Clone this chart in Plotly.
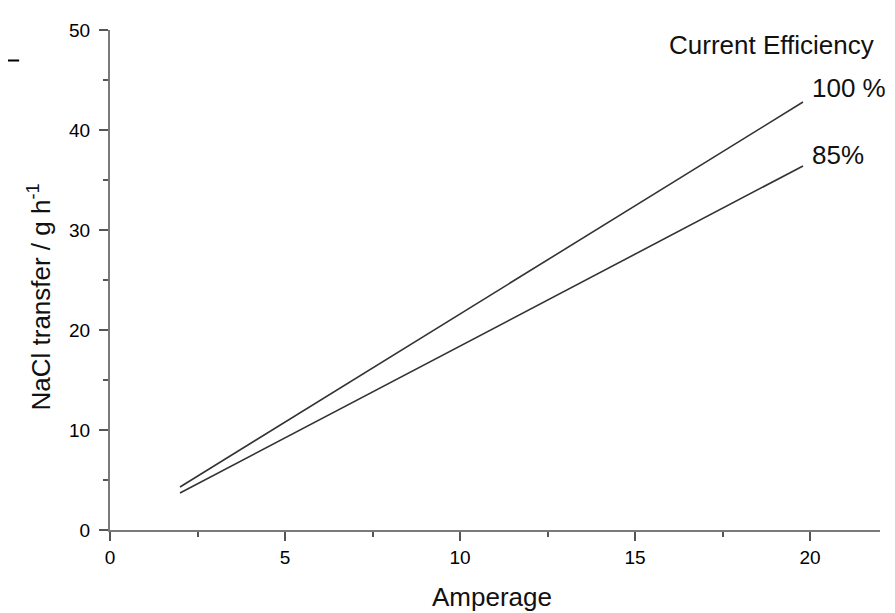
import plotly.graph_objects as go

amperage = [2.0, 19.8]
transfer_100 = [4.3, 42.8]
transfer_85 = [3.7, 36.4]

x_ticks = [0, 5, 10, 15, 20]
y_ticks = [0, 10, 20, 30, 40, 50]

line_color = "#333333"
font = "Liberation Sans, Arial, sans-serif"
text_color = "#111111"

fig = go.Figure()
fig.add_trace(go.Scatter(x=amperage, y=transfer_100, mode="lines",
                         line=dict(color=line_color, width=1.6), name="100 %"))
fig.add_trace(go.Scatter(x=amperage, y=transfer_85, mode="lines",
                         line=dict(color=line_color, width=1.6), name="85%"))

axis_common = dict(
    showgrid=False, zeroline=False, showline=True, linecolor="#7a7a7a", linewidth=2,
    ticks="outside", tickcolor="#555555", tickwidth=1.5,
    tickfont=dict(family=font, size=19, color="#000000"),
)

fig.update_xaxes(range=[0, 22], tickvals=x_ticks, ticklen=9,
                 minor=dict(dtick=2.5, tick0=0, ticks="outside", ticklen=5, tickcolor="#555555", tickwidth=1.5),
                 **axis_common)
fig.update_yaxes(range=[0, 50], tickvals=y_ticks, ticklen=9, ticklabelstandoff=5,
                 minor=dict(dtick=5, tick0=0, ticks="outside", ticklen=5, tickcolor="#555555", tickwidth=1.5),
                 **axis_common)

fig.add_annotation(text="Current Efficiency", x=18.91, y=48.5, xref="x", yref="y",
                   xanchor="center", yanchor="middle",
                   showarrow=False, font=dict(family=font, size=26, color=text_color))
fig.add_annotation(text="100 %", x=20.0, y=44.2, xref="x", yref="y", xanchor="left",
                   yanchor="middle",
                   showarrow=False, font=dict(family=font, size=26, color=text_color))
fig.add_annotation(text="85%", x=20.0, y=37.5, xref="x", yref="y", xanchor="left",
                   yanchor="middle",
                   showarrow=False, font=dict(family=font, size=26, color=text_color))

fig.add_annotation(text="NaCl transfer / g h<sup>-1</sup>", x=-0.0909, y=0.465,
                   xref="paper", yref="paper", textangle=-90, showarrow=False,
                   xanchor="center", yanchor="middle",
                   font=dict(family=font, size=26, color=text_color))
fig.add_annotation(text="Amperage", x=0.496, y=-0.134, xref="paper", yref="paper",
                   xanchor="center", yanchor="middle",
                   showarrow=False, font=dict(family=font, size=26, color=text_color))

# short dash at top-left of the original picture
fig.add_shape(type="line", xref="paper", yref="paper", x0=-0.1325, x1=-0.118,
              y0=0.939, y1=0.939, line=dict(color="#000000", width=2))

# the page body adds an 8px offset, so the figure is sized to fill the window
fig.update_layout(
    width=887, height=605,
    margin=dict(l=102, r=15, t=14, b=83),
    paper_bgcolor="white", plot_bgcolor="white",
    showlegend=False,
)

fig.write_html("out.html")
